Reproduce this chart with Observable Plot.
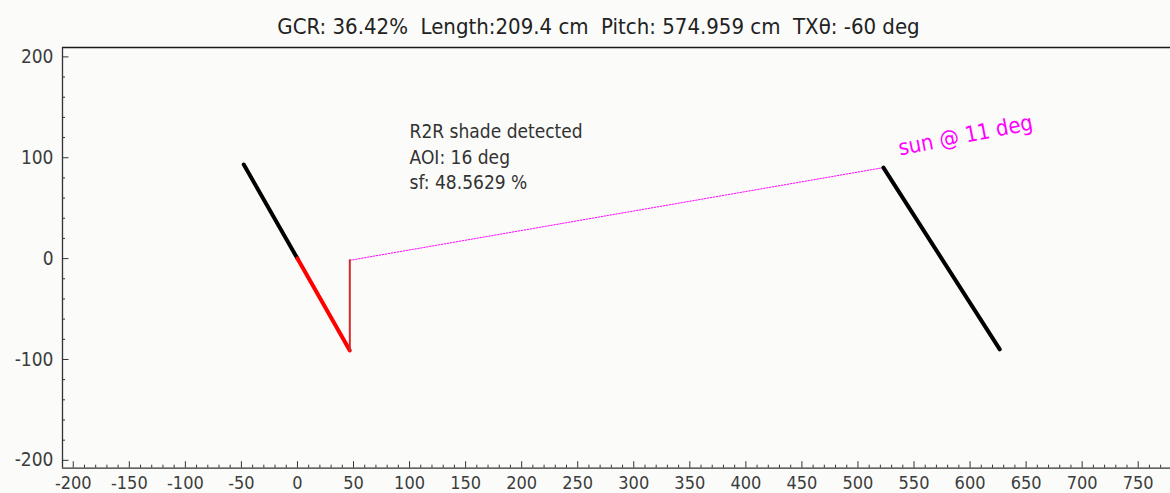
<!DOCTYPE html>
<html><head><meta charset="utf-8">
<script src="https://cdn.jsdelivr.net/npm/d3@7"></script>
<script src="https://cdn.jsdelivr.net/npm/@observablehq/plot@0.6"></script>
<style>
html,body{margin:0;padding:0;background:#fbfcf9;}
body{width:1170px;height:493px;overflow:hidden;font-family:"DejaVu Sans Condensed","DejaVu Sans",sans-serif;font-stretch:condensed;}
#title{box-sizing:border-box;height:38px;padding-top:16px;padding-left:27px;line-height:22px;font-size:22px;text-align:center;color:#222;white-space:pre;}
#chart svg{display:block;}
</style></head><body>
<div id="title"></div>
<div id="chart"></div>
<script>
// ---- header values ----
const gcrPct = "36.42";
const rowLengthCm = "209.4";
const pitchCm = "574.959";
const trackerDeg = -60;
const sunDeg = 11;
const noteLines = ["R2R shade detected", "AOI: 16 deg", "sf: 48.5629 %"];
const sunLabel = "sun @ 11 deg";

// ---- geometry (cm) ----
const leftLitX = [-47.9, 0],     leftLitY = [93.3, 0];
const leftShadedX = [0, 46.7],   leftShadedY = [0, -91.0];
const shadowEdgeX = [46.7, 46.7], shadowEdgeY = [-91.0, -1.7];
const sunRayX = [46.7, 522.7],   sunRayY = [-1.7, 90.2];
const rightRowX = [522.7, 626.5], rightRowY = [90.2, -90.0];

// ---- annotation anchors (cm) ----
const noteX = [100], noteY = [138];
const sunLabelX = [596], sunLabelY = [122];

// ---- axes ----
const xTicks = [-200,-150,-100,-50,0,50,100,150,200,250,300,350,400,450,500,550,600,650,700,750];
const yTicks = [-200,-100,0,100,200];
const xMinor = d3.range(-200, 780, 10).filter(v => !xTicks.includes(v));
const yMinor = d3.range(-200, 201, 20).filter(v => !yTicks.includes(v));
const xDomain = [-209.6, 778.8];
const yDomain = [-207.8, 209.3];

document.getElementById("title").textContent =
  `GCR: ${gcrPct}%  Length:${rowLengthCm} cm  Pitch: ${pitchCm} cm  TXθ: ${trackerDeg} deg`;

const pts = (xs, ys) => xs.map((x, i) => ({x, y: ys[i]}));

const W = 1170, H = 455, mT = 9, mB = 25.3, mL = 62, mR = 0;
const plotH = H - mT - mB, plotW = W - mL - mR;
const font = "'DejaVu Sans Condensed','DejaVu Sans',sans-serif";

const chart = Plot.plot({
  width: W, height: H,
  marginTop: mT, marginBottom: mB, marginLeft: mL, marginRight: mR,
  style: {background: "transparent", fontFamily: font, fontStretch: "condensed"},
  x: {domain: xDomain, label: null},
  y: {domain: yDomain, label: null},
  marks: [
    // frame lines
    Plot.ruleY([yDomain[1]], {stroke: "#1a1a1a", strokeWidth: 1.6}),
    Plot.ruleY([yDomain[0]], {stroke: "#333", strokeWidth: 1.3}),
    Plot.ruleX([xDomain[0]], {stroke: "#333", strokeWidth: 1.3}),
    // inward ticks
    Plot.ruleX(xTicks, {x: d => d, insetTop: plotH - 6.5, stroke: "#333", strokeWidth: 1}),
    Plot.ruleX(xMinor, {x: d => d, insetTop: plotH - 3, stroke: "#333", strokeWidth: 1}),
    Plot.ruleY(yTicks, {y: d => d, insetRight: plotW - 6.5, stroke: "#333", strokeWidth: 1}),
    Plot.ruleY(yMinor, {y: d => d, insetRight: plotW - 3, stroke: "#333", strokeWidth: 1}),
    Plot.axisX({ticks: xTicks, tickSize: 0, tickPadding: 8, fontSize: 18, fill: "#3c3c3c", tickFormat: d => String(d), label: null}),
    Plot.axisY({ticks: yTicks, tickSize: 0, tickPadding: 9, fontSize: 19, fill: "#3c3c3c", tickFormat: d => String(d), label: null}),
    // sun ray
    Plot.line(pts(sunRayX, sunRayY), {x: "x", y: "y", stroke: "#ff00ff", strokeWidth: 1, strokeDasharray: "1.5,1.5"}),
    // rows
    Plot.line(pts(leftLitX, leftLitY), {x: "x", y: "y", stroke: "#000", strokeWidth: 4}),
    Plot.line(pts(leftShadedX, leftShadedY), {x: "x", y: "y", stroke: "#ff0000", strokeWidth: 4}),
    Plot.line(pts(shadowEdgeX, shadowEdgeY), {x: "x", y: "y", stroke: "#d42a2a", strokeWidth: 2}),
    Plot.line(pts(rightRowX, rightRowY), {x: "x", y: "y", stroke: "#000", strokeWidth: 4}),
    // annotations
    Plot.text([noteLines.join("\n")], {x: () => noteX[0], y: () => noteY[0], text: d => d,
      textAnchor: "start", lineAnchor: "top", lineHeight: 1.36, fontSize: 19, fill: "#333"}),
    Plot.text([sunLabel], {x: () => sunLabelX[0], y: () => sunLabelY[0], text: d => d,
      rotate: -sunDeg, fontSize: 22, fill: "#ff00ff"})
  ]
});
document.getElementById("chart").appendChild(chart);
</script>
</body></html>
